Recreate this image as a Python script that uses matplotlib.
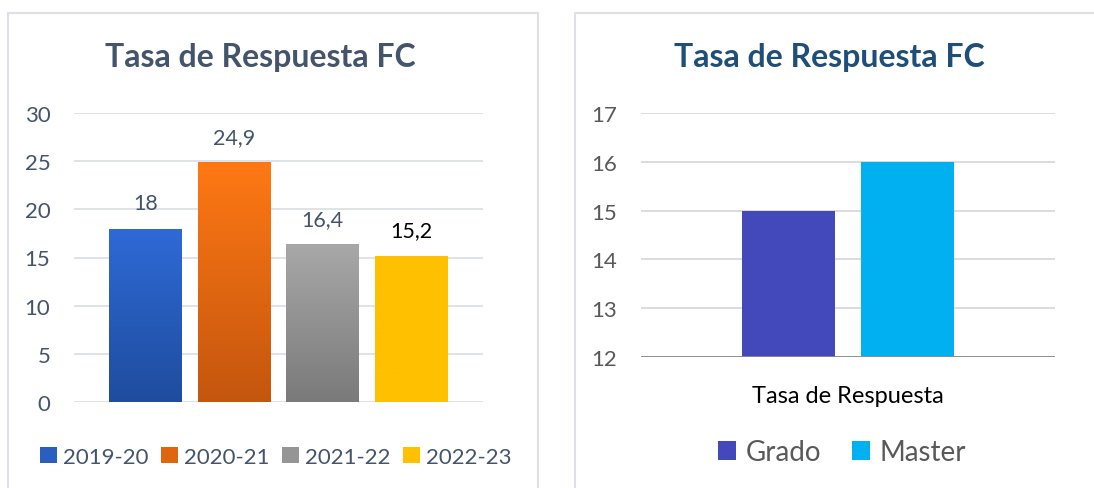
import numpy as np
import matplotlib
matplotlib.use("Agg")
import matplotlib.pyplot as plt
from matplotlib.patches import Rectangle, Patch
from matplotlib.colors import LinearSegmentedColormap

plt.rcParams['font.family'] = ['Lato', 'DejaVu Sans']

# left chart data
years = ['2019-20', '2020-21', '2021-22', '2022-23']
rates = [18, 24.9, 16.4, 15.2]
rate_labels = ['18', '24,9', '16,4', '15,2']
label_colors = ['#44546A', '#44546A', '#44546A', '#000000']
bar_tops = ['#2E6AD6', '#FF7814', '#A8A8A8', '#FFC000']
bar_bottoms = ['#1F4C9E', '#C4560E', '#7A7A7A', '#FFC000']

# right chart data
groups = ['Grado', 'Master']
group_rates = [15, 16]
group_colors = ['#4349BB', '#00B0F0']
category = 'Tasa de Respuesta'

title = 'Tasa de Respuesta FC'

W, H = 1094, 489
fig = plt.figure(figsize=(W / 100, H / 100), dpi=100)

def fx(px):
    return px / W

def fy(py):
    return 1 - py / H

# panel borders
for x0, x1 in [(8, 538), (575, 1100)]:
    fig.patches.append(Rectangle((fx(x0), fy(495)), fx(x1 - x0), (495 - 14) / H,
                                 transform=fig.transFigure, fill=False,
                                 edgecolor='#DDE1E6', linewidth=1.5))

# ---- left chart ----
ax1 = fig.add_axes([fx(74), fy(403), fx(483 - 74), (403 - 114) / H])
x = np.arange(len(years))
width = 0.82
bars = ax1.bar(x, rates, width=width, color=bar_tops, zorder=3)
for b, top, bot in zip(bars, bar_tops, bar_bottoms):
    cmap = LinearSegmentedColormap.from_list('g', [bot, top])
    grad = np.linspace(0, 1, 256).reshape(-1, 1)
    x0, y0 = b.get_x(), b.get_y()
    im = ax1.imshow(grad, cmap=cmap, origin='lower', aspect='auto',
                    extent=[x0, x0 + b.get_width(), y0, y0 + b.get_height()],
                    zorder=3)
    im.set_clip_path(b)
for xi, v, lab, c in zip(x, rates, rate_labels, label_colors):
    ax1.annotate(lab, (xi, v), xytext=(0, 11), textcoords='offset points',
                 ha='center', va='bottom', fontsize=15.5, color=c)
ax1.set_xlim(-0.81, 3.81)
ax1.set_ylim(0, 30)
ax1.set_yticks(range(0, 31, 5))
ax1.set_xticks([])
ax1.grid(axis='y', color='#DCE0E6', linewidth=1.3, zorder=0)
for s in ax1.spines.values():
    s.set_visible(False)
ax1.tick_params(axis='y', length=0, pad=17, labelsize=16, labelcolor='#44546A')
fig.text(fx(260), fy(58), title, ha='center', va='center', fontsize=23,
         fontweight='bold', color='#44546A')
handles1 = [Patch(facecolor=bot, edgecolor='none') for bot in
            ['#2A5FC0', '#E0650F', '#959595', '#FFC000']]
fig.legend(handles1, years, loc='center', bbox_to_anchor=(fx(276), fy(458)),
           ncol=4, frameon=False, fontsize=16, labelcolor='#44546A',
           handlelength=0.75, handleheight=0.75, handletextpad=0.3,
           columnspacing=0.55)

# ---- right chart ----
ax2 = fig.add_axes([fx(641), fy(358), fx(1055 - 641), (358 - 114) / H])
offsets = [-0.287, 0.287]
ax2.bar(offsets, group_rates, width=0.45, color=group_colors, zorder=3)
ax2.set_xlim(-1, 1)
ax2.set_ylim(12, 17)
ax2.set_yticks(range(12, 18))
ax2.set_xticks([0])
ax2.set_xticklabels([category])
ax2.grid(axis='y', color='#D9D9D9', linewidth=1.3, zorder=0)
for s in ax2.spines.values():
    s.set_visible(False)
ax2.axhline(12, color='#8C8C8C', linewidth=1.3, zorder=4)
ax2.tick_params(axis='y', length=0, pad=17, labelsize=16, labelcolor='#595959')
ax2.tick_params(axis='x', length=0, pad=20, labelsize=17, labelcolor='#000000')
fig.text(fx(829), fy(58), title, ha='center', va='center', fontsize=23,
         fontweight='bold', color='#1F4E79')
handles2 = [Patch(facecolor=c, edgecolor='none') for c in group_colors]
fig.legend(handles2, groups, loc='center', bbox_to_anchor=(fx(842), fy(453)),
           ncol=2, frameon=False, fontsize=20, labelcolor='#595959',
           handlelength=0.65, handleheight=0.65, handletextpad=0.35,
           columnspacing=1.1)

fig.savefig('out.png', dpi=100)
